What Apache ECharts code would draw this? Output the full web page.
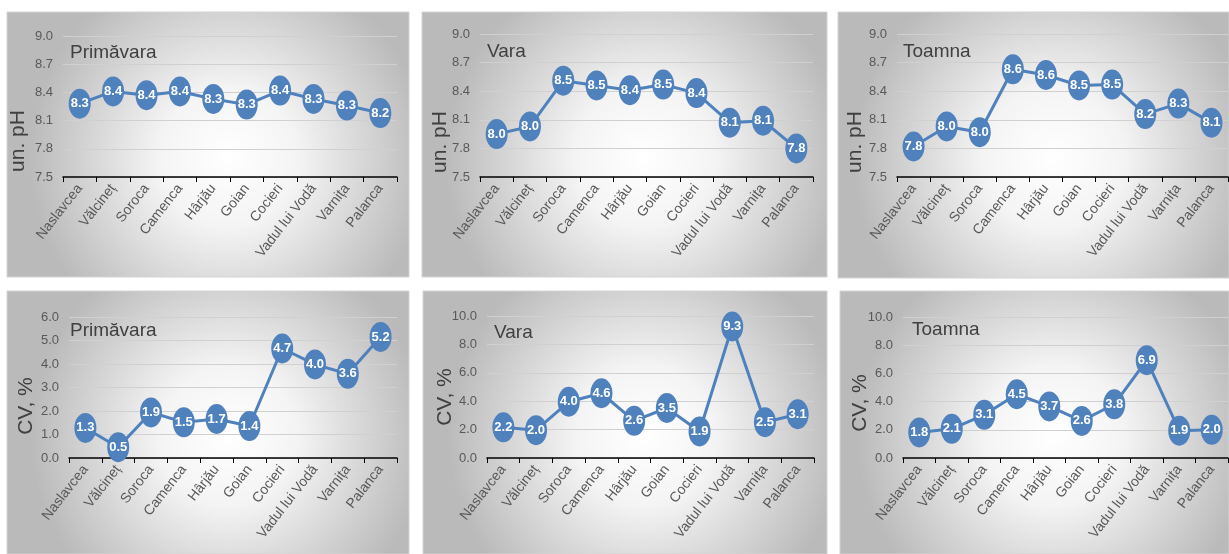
<!DOCTYPE html>
<html>
	<head>
		<meta charset="utf-8" />
		<title>pH si CV</title>
		<script type="text/javascript" src="https://cdn.jsdelivr.net/npm/echarts@6/dist/echarts.min.js"></script>
		<style>
			html, body { margin: 0; padding: 0; background: #fff; }
		</style>
	</head>
	<body>
		<div id="main" style="width:1229px; height:554px;"></div>
		<script>
			// categorii (statii)
			var statii = ['Naslavcea', 'Vălcineț', 'Soroca', 'Camenca', 'Hârjău', 'Goian', 'Cocieri', 'Vadul lui Vodă', 'Varnița', 'Palanca'];

			// pH, un.
			var phPrimavara = [8.28, 8.41, 8.37, 8.41, 8.33, 8.27, 8.42, 8.33, 8.26, 8.18];
			var phVara      = [7.95, 8.03, 8.51, 8.46, 8.41, 8.47, 8.38, 8.07, 8.09, 7.80];
			var phToamna    = [7.82, 8.03, 7.97, 8.63, 8.57, 8.46, 8.47, 8.16, 8.27, 8.07];

			// CV, %
			var cvPrimavara = [1.28, 0.46, 1.94, 1.52, 1.66, 1.36, 4.66, 3.98, 3.58, 5.15];
			var cvVara      = [2.16, 1.96, 3.96, 4.56, 2.62, 3.52, 1.87, 9.26, 2.52, 3.08];
			var cvToamna    = [1.81, 2.07, 3.06, 4.52, 3.66, 2.63, 3.81, 6.94, 1.94, 2.00];

			var titluri = ['Primăvara', 'Vara', 'Toamna', 'Primăvara', 'Vara', 'Toamna'];
			var serii   = [phPrimavara, phVara, phToamna, cvPrimavara, cvVara, cvToamna];
			var yScale  = [[7.5, 9.0, 0.3], [7.5, 9.0, 0.3], [7.5, 9.0, 0.3], [0, 6, 1], [0, 10, 2], [0, 10, 2]];
			var yNume   = ['un. pH', 'un. pH', 'un. pH', 'CV, %', 'CV, %', 'CV, %'];

			// layout
			var panouri = [[7, 12, 402, 265], [422, 12, 405, 265], [838, 12, 391, 266],
			               [7, 291, 402, 263], [423, 291, 404, 263], [840, 291, 389, 263]];
			var griduri = [[63, 36, 334, 141], [480, 34, 333, 143], [897, 34, 331, 143],
			               [69, 317, 328, 141], [487, 316, 327, 142], [903, 317, 325, 141]];
			var pozTitlu = [[70, 53], [487, 52], [903, 52], [70, 331], [494, 333], [912, 330]];
			var pozNume  = [[18, 141], [440, 142], [855, 142], [26, 406], [445, 397], [860, 403]];

			var fontNarrow = '"Liberation Sans Narrow", "Arial Narrow", "Liberation Sans", sans-serif';
			var albastru = '#4f81bd';

			var chartDom = document.getElementById('main');
			var myChart = echarts.init(chartDom);

			var grid = [], xAxis = [], yAxis = [], series = [], graphic = [];

			for (var i = 0; i < 6; i++) {
				var p = panouri[i];
				graphic.push({
					type: 'rect',
					z: -10,
					shape: { x: p[0], y: p[1], width: p[2], height: p[3] },
					style: {
						fill: new echarts.graphic.RadialGradient(0.55, 0.55, 0.75, [
							{ offset: 0, color: '#ffffff' },
							{ offset: 0.35, color: '#f4f4f4' },
							{ offset: 1, color: '#bababa' }
						]),
						stroke: '#d4d4d4',
						lineWidth: 1
					}
				});
				graphic.push({
					type: 'text',
					z: 10,
					x: pozTitlu[i][0],
					y: pozTitlu[i][1],
					style: {
						text: titluri[i],
						fill: '#404040',
						font: '19px ' + fontNarrow,
						verticalAlign: 'middle'
					}
				});
				graphic.push({
					type: 'text',
					z: 10,
					x: pozNume[i][0],
					y: pozNume[i][1],
					rotation: Math.PI / 2,
					style: {
						text: yNume[i],
						fill: '#404040',
						font: '21px ' + fontNarrow,
						align: 'center',
						verticalAlign: 'middle'
					}
				});

				var g = griduri[i];
				grid.push({ left: g[0], top: g[1], width: g[2], height: g[3], containLabel: false });

				xAxis.push({
					type: 'category',
					gridIndex: i,
					data: statii,
					boundaryGap: true,
					axisLine: { lineStyle: { color: '#000', width: 1.5 } },
					axisTick: { show: true, alignWithLabel: false, length: 5, lineStyle: { color: '#000', width: 1 } },
					axisLabel: {
						rotate: 52,
						margin: 9,
						interval: 0,
						color: '#595959',
						fontSize: 14,
						fontFamily: fontNarrow
					}
				});

				var s = yScale[i];
				yAxis.push({
					type: 'value',
					gridIndex: i,
					min: s[0],
					max: s[1],
					interval: s[2],
					axisLine: { show: false },
					axisTick: { show: false },
					splitLine: { lineStyle: { color: '#d0d0d0', width: 1 } },
					axisLabel: {
						margin: 10,
						color: '#595959',
						fontSize: 13,
						fontFamily: fontNarrow,
						formatter: function (v) { return v.toFixed(1); }
					}
				});

				series.push({
					type: 'line',
					xAxisIndex: i,
					yAxisIndex: i,
					data: serii[i],
					symbol: 'circle',
					symbolSize: [22, 30],
					lineStyle: { color: albastru, width: 3 },
					itemStyle: { color: albastru },
					label: {
						show: true,
						position: 'inside',
						color: '#fff',
						fontWeight: 'bold',
						fontSize: 13,
						fontFamily: fontNarrow,
						formatter: function (e) { return e.value.toFixed(1); }
					},
					emphasis: { disabled: true },
					animation: false
				});
			}

			var data_opt = {
				animation: false,
				backgroundColor: '#ffffff',
				graphic: graphic,
				grid: grid,
				xAxis: xAxis,
				yAxis: yAxis,
				series: series
			};

			myChart.setOption(data_opt);
		</script>
	</body>
</html>
